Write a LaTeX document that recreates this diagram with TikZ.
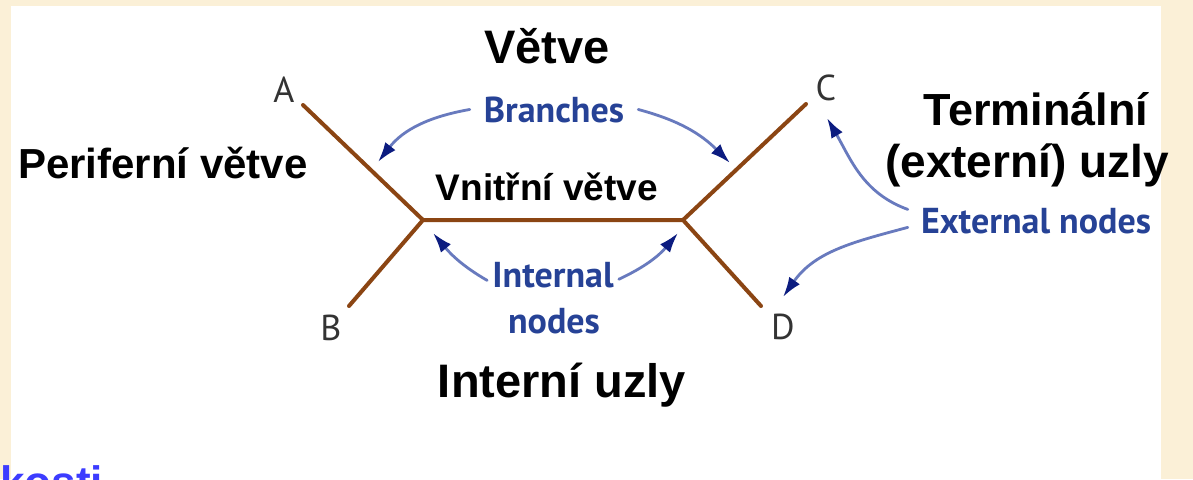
\documentclass[tikz,border=0pt]{standalone}
\usepackage{fontspec}
\setmainfont{Liberation Sans}
\newfontfamily\gillfont{PT Sans}
\usetikzlibrary{arrows.meta}
\definecolor{paper}{RGB}{251,240,215}
\definecolor{bark}{RGB}{139,69,19}
\definecolor{curve}{RGB}{104,122,190}
\definecolor{tipblue}{RGB}{12,28,128}
\definecolor{engblue}{RGB}{38,66,150}
\definecolor{linkblue}{RGB}{60,60,255}

\begin{document}
\begin{tikzpicture}[x=1pt, y=-1pt, line join=round, line cap=round,
  czech/.style={font=\bfseries\fontsize{#1}{#1}\selectfont, inner sep=0pt, anchor=base},
  eng/.style={font=\gillfont\bfseries\fontsize{36}{38}\selectfont, text=engblue, inner ysep=0pt, anchor=base},
  leaf/.style={font=\gillfont\fontsize{36}{38}\selectfont, text=black!80, inner sep=0pt},
  branch/.style={bark, line width=4pt},
  pointer/.style={curve, line width=2.8pt, -{Latex[length=20pt,width=13pt,color=tipblue]}}]
  \fill[paper] (0,0) rectangle (1193,479);
  \fill[white] (11,6) rectangle (1161,479);
  \useasboundingbox (0,0) rectangle (1193,479);

  \path
  (423,220) coordinate (L)
  (683,220) coordinate (R)
  (303,105) coordinate (A)
  (349,306) coordinate (B)
  (806,104) coordinate (C)
  (761,306) coordinate (D)
  (378,162) coordinate (brA)
  (730,163) coordinate (brC)
  (433,233) coordinate (inL)
  (678,233) coordinate (inR)
  (827,118) coordinate (exC)
  (783,297) coordinate (exD)
  ;

  \draw[branch] (A)--(L)--(B) (L)--(R) (C)--(R)--(D);
  \foreach \p/\x/\y in {A/284/90,B/331/328,C/826/88,D/783/327}
  \node[leaf] (lbl\p) at (\x,\y) {\p};

  \node[czech=47] (vetve) at (547,63) {Větve};
  \node[czech=42] (periferni) at (163,178) {Periferní větve};
  \node[czech=37] (vnitrni) at (547,200) {Vnitřní větve};
  \node[czech=47] (interni) at (562,397) {Interní uzly};
  \node[czech=45] (terminal) at (1036,125) {Terminální};
  \node[czech=46] (externi) at (1027,177) {(externí) uzly};

  \node[eng, inner xsep=14pt] (branches) at (554,122) {Branches};
  \node[eng, inner xsep=5pt] (internal) at (553,287) {Internal};
  \node[eng] (nodes) at (554,333) {nodes};
  \node[eng, inner xsep=13pt] (external) at (1036,233) {External nodes};

  \draw[pointer] (branches.west) to[out=190,in=52] (brA);
  \draw[pointer] (branches.east) to[out=-15,in=135] (brC);
  \draw[pointer] (internal.185) to[out=150,in=-50] (inL);
  \draw[pointer] (internal.-4) to[out=25,in=-130] (inR);
  \draw[pointer] (external.175) to[out=160,in=-60] (exC);
  \draw[pointer] (external.183) to[out=195,in=55] (exD);

  \begin{scope}
    \clip (0,0) rectangle (1193,479);
    \node[czech=44, text=linkblue, anchor=base west] (kosti) at (0,497) {kosti};
  \end{scope}
\end{tikzpicture}
\end{document}
